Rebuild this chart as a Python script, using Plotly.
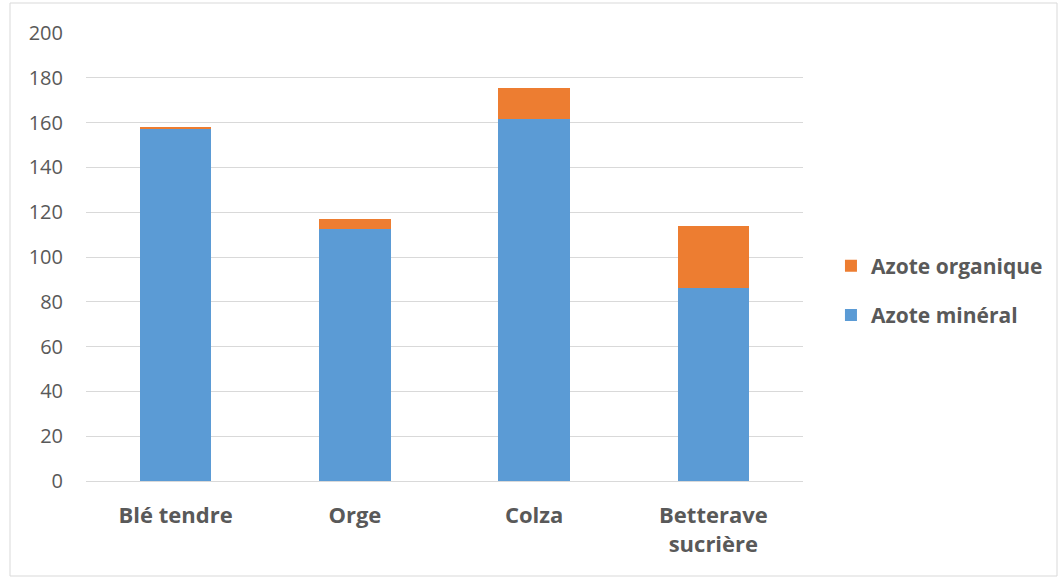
import plotly.graph_objects as go

categories = ["Blé tendre", "Orge", "Colza", "Betterave<br>sucrière"]
azote_mineral = [157, 112.6, 161.5, 86.3]
azote_organique = [1.2, 4.2, 13.8, 27.5]

text_color = "#595959"
font_family = "'Open Sans', sans-serif"

fig = go.Figure()
fig.add_trace(go.Bar(
    x=categories, y=azote_mineral, name="Azote minéral",
    marker=dict(color="#5B9BD5", line=dict(width=0)),
    legendgroup="min", legendrank=2,
))
fig.add_trace(go.Bar(
    x=categories, y=azote_organique, name="Azote organique",
    marker=dict(color="#ED7D31", line=dict(width=0)),
    legendgroup="org", legendrank=1,
))

fig.update_layout(
    width=1059, height=578,
    barmode="stack", bargap=0.6,
    plot_bgcolor="white", paper_bgcolor="white",
    margin=dict(l=86, r=256, t=33, b=97, autoexpand=False),
    font=dict(family=font_family, color=text_color),
    legend=dict(
        x=1.039, y=0.425, xanchor="left", yanchor="middle",
        traceorder="grouped", tracegroupgap=19,
        font=dict(size=21, color=text_color, family=font_family, weight="bold"),
        itemwidth=30, bgcolor="rgba(0,0,0,0)",
    ),
    showlegend=True,
)
fig.update_yaxes(
    range=[0, 200], dtick=20, showgrid=True, gridcolor="#d9d9d9", gridwidth=1,
    zeroline=True, zerolinecolor="#d9d9d9", zerolinewidth=1,
    tickfont=dict(size=20, color=text_color), ticklabelstandoff=22,
    showline=False, ticks="",
)
fig.update_xaxes(
    tickfont=dict(size=22, color=text_color, weight="bold"),
    showline=False, ticks="", ticklabelstandoff=19,
)

# light frame around the whole chart
fig.add_shape(
    type="rect", xref="paper", yref="paper",
    x0=-76 / 717, x1=1 + 254 / 717, y0=-95 / 448, y1=1 + 30 / 448,
    line=dict(color="#d9d9d9", width=1), fillcolor="rgba(0,0,0,0)", layer="below",
)

fig.write_html("out.html")
